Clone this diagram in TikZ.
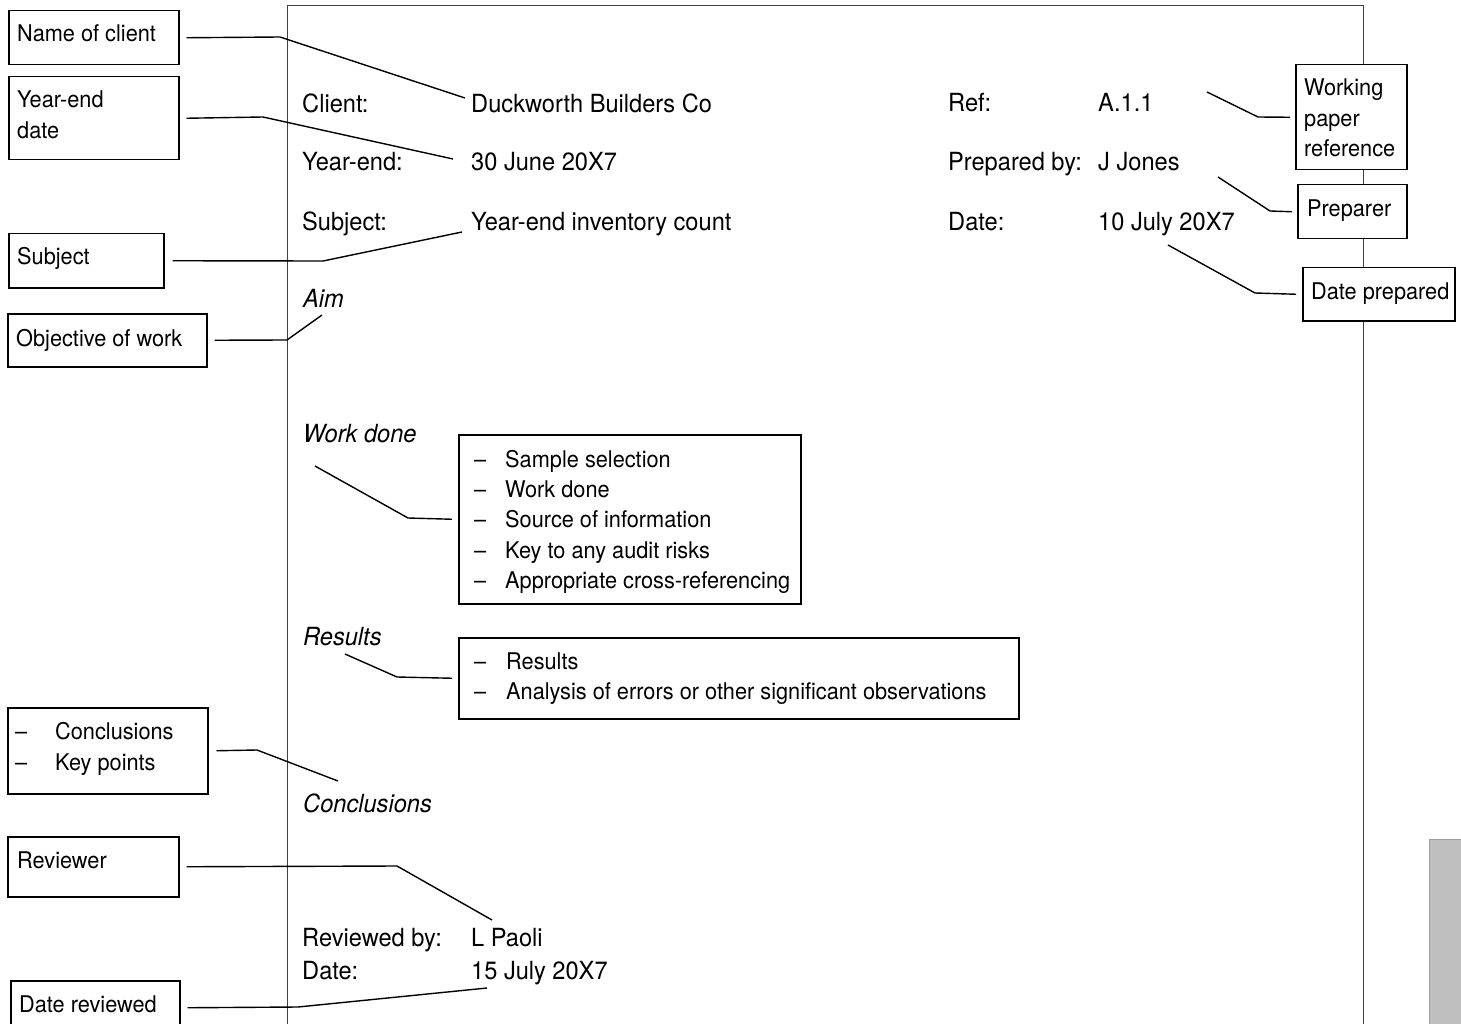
\documentclass[tikz,border=0pt]{standalone}
\usepackage{fontspec}
\setmainfont{TeX Gyre Heros}[FakeStretch=0.945]
\begin{document}
\begin{tikzpicture}[x=1pt,y=-1pt,
  lbox/.style={draw=black, line width=1.5pt, fill=white, inner sep=0pt, anchor=north west},
  ltext/.style={anchor=base west, inner sep=0pt, font=\fontsize{23}{27}\selectfont},
  mtext/.style={anchor=base west, inner sep=0pt, font=\fontsize{25}{30}\selectfont},
  htext/.style={anchor=base west, inner sep=0pt, font=\fontsize{25}{30}\selectfont\itshape},
  conn/.style={draw=black, line width=1.4pt},
  pageframe/.style={draw=black!75, line width=1pt},
  tab/.style={fill=black!25, draw=black!38, line width=1pt}]
\useasboundingbox (0,0) rectangle (1461,1024);
% page frame
\draw[pageframe] (287,1030) -- (287,6) -- (1363,6) -- (1363,1030);
% gray tab
\draw[tab] (1470,839) -- (1429,839) -- (1429,1030) -- (1470,1030) -- cycle;

% ---- left label boxes
\node[lbox, minimum width=170pt, minimum height=54pt] (nc) at (8,10) {};
\node[ltext] at (17,42) {Name of client};
\node[lbox, minimum width=170pt, minimum height=83pt] (ye) at (8,76) {};
\node[ltext] at (17,108) {Year-end};
\node[ltext] at (17,139) {date};
\node[lbox, minimum width=155pt, minimum height=54pt] (sb) at (8,233) {};
\node[ltext] at (17,265) {Subject};
\node[lbox, minimum width=199pt, minimum height=53pt] (ob) at (7,313) {};
\node[ltext] at (16,346) {Objective of work};
\node[lbox, minimum width=200pt, minimum height=86pt] (cb) at (7,707) {};
\node[ltext] at (15,739) {–};
\node[ltext] at (55,739) {Conclusions};
\node[ltext] at (15,770) {–};
\node[ltext] at (55,770) {Key points};
\node[lbox, minimum width=171pt, minimum height=60pt] (rv) at (7,836) {};
\node[ltext] at (17,868) {Reviewer};
\node[lbox, minimum width=169pt, minimum height=54pt] (dr) at (10,980) {};
\node[ltext] at (19,1012) {Date reviewed};

% ---- right label boxes
\node[lbox, minimum width=111pt, minimum height=105pt] (wp) at (1295,64) {};
\node[ltext] at (1304,96) {Working};
\node[ltext] at (1304,127) {paper};
\node[ltext] at (1304,157) {reference};
\node[lbox, minimum width=109pt, minimum height=54pt] (pr) at (1297,184) {};
\node[ltext] at (1307,217) {Preparer};
\node[lbox, minimum width=152pt, minimum height=53pt] (dp) at (1302,267) {};
\node[ltext] at (1311,299) {Date prepared};

% ---- header text
\node[mtext] (tclient) at (302,113) {Client:};
\node[mtext] (vclient) at (471,113) {Duckworth Builders Co};
\node[mtext] (tye) at (302,171) {Year-end:};
\node[mtext] (vye) at (471,171) {30 June 20X7};
\node[mtext] (tsub) at (302,231) {Subject:};
\node[mtext] (vsub) at (471,231) {Year-end inventory count};
\node[mtext] (tref) at (948,112) {Ref:};
\node[mtext] (vref) at (1098,112) {A.1.1};
\node[mtext] (tprep) at (948,171) {Prepared by:};
\node[mtext] (vprep) at (1098,171) {J Jones};
\node[mtext] (tdate) at (948,231) {Date:};
\node[mtext] (vdate) at (1098,231) {10 July 20X7};

% ---- headings
\node[htext] (aim) at (303,307) {Aim};
\node[htext] (wdh) at (303,442) {Work done};
\node[htext] (resh) at (303,645) {Results};
\node[htext] (conh) at (303,812) {Conclusions};

% ---- work done box
\node[lbox, minimum width=342pt, minimum height=169pt] (wd) at (458,434) {};
\foreach \yy/\tt in {467/Sample selection, 497/Work done, 527/Source of information, 558/Key to any audit risks, 588/Appropriate cross-referencing}{
  \node[ltext] at (474,\yy) {–};
  \node[ltext] at (505,\yy) {\tt};
}
% ---- results box
\node[lbox, minimum width=560pt, minimum height=81pt] (rs) at (458,637) {};
\node[ltext] at (474,669) {–};
\node[ltext] at (506,669) {Results};
\node[ltext] at (474,699) {–};
\node[ltext] at (506,699) {Analysis of errors or other significant observations};

% ---- review
\node[mtext] (trev) at (302,946) {Reviewed by:};
\node[mtext] (vrev) at (471,946) {L Paoli};
\node[mtext] (trd) at (302,979) {Date:};
\node[mtext] (vrd) at (471,979) {15 July 20X7};

% ---- connector free ends
\coordinate (e1) at (465,98);
\coordinate (e2) at (453,159);
\coordinate (e3) at (462,232);
\coordinate (e4) at (322,315);
\coordinate (e5) at (315,466);
\coordinate (e6) at (345,654);
\coordinate (e7) at (338,781);
\coordinate (e8) at (492,920);
\coordinate (e9) at (487,988);
\coordinate (e10) at (1207,92);
\coordinate (e11) at (1218,177);
\coordinate (e12) at (1168,245);

% ---- connectors
\draw[conn] ([xshift=7pt]nc.east) -- (280,37) -- (e1);
\draw[conn] ([xshift=7pt]ye.east) -- (263,117) -- (e2);
\draw[conn] ([xshift=8pt]sb.east) -- (323,261) -- (e3);
\draw[conn] ([xshift=7pt]ob.east) -- (287,340) -- (e4);
\draw[conn] (e5) -- (408,518) -- ([xshift=-6pt]wd.west);
\draw[conn] (e6) -- (397,677) -- ([xshift=-6pt]rs.west);
\draw[conn] ([xshift=8pt]cb.east) -- (257,750) -- (e7);
\draw[conn] ([xshift=7pt]rv.east) -- (397,866) -- (e8);
\draw[conn] ([xshift=7pt]dr.east) -- (298,1007) -- (e9);
\draw[conn] (e10) -- (1258,117) -- ([xshift=-5pt]wp.west);
\draw[conn] (e11) -- (1270,211) -- ([xshift=-5pt]pr.west);
\draw[conn] (e12) -- (1255,293) -- ([xshift=-6pt]dp.west);
\end{tikzpicture}
\end{document}
